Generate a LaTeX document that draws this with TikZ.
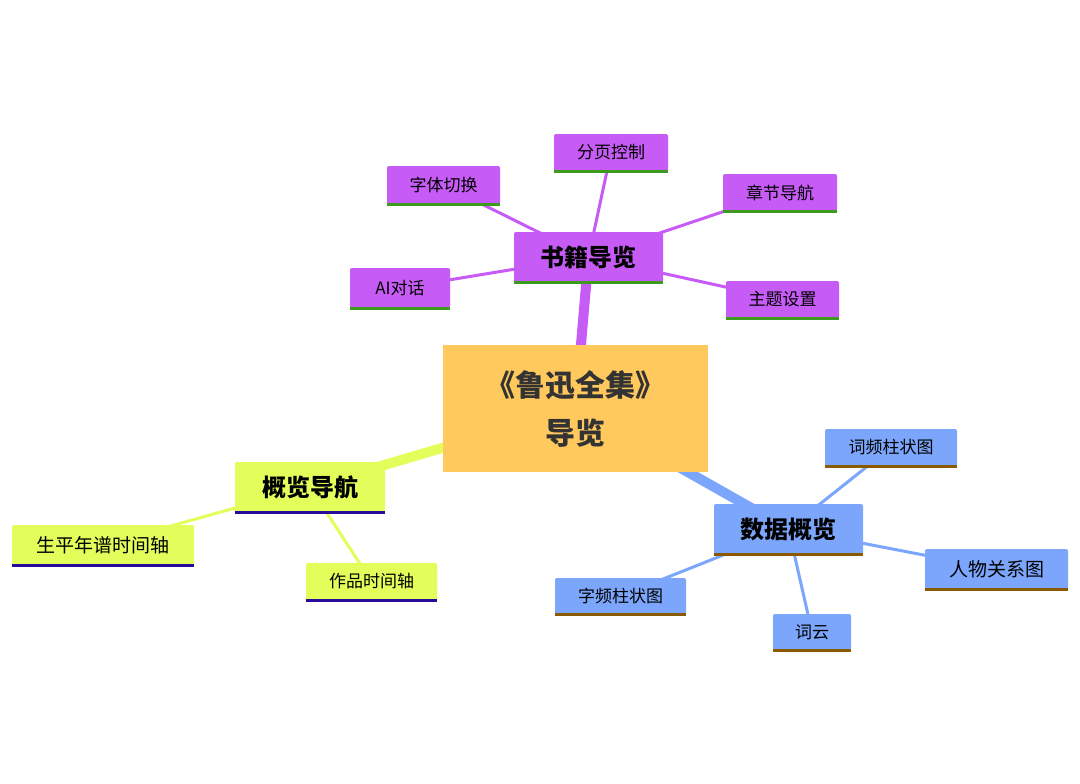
\documentclass[tikz,border=0pt]{standalone}
\usepackage{fontspec}
\setmainfont{Noto Sans CJK SC}
\usetikzlibrary{backgrounds}
\definecolor{cen}{HTML}{FFC95E}
\definecolor{pur}{HTML}{C65BF5}
\definecolor{pgr}{HTML}{3C9A1E}
\definecolor{ylw}{HTML}{E3FD5A}
\definecolor{ybl}{HTML}{2A0A9A}
\definecolor{blu}{HTML}{7BA6FC}
\definecolor{bbr}{HTML}{8A5A00}
\tikzset{
 bx/.style={inner sep=0pt, rounded corners=2pt, font=\fontsize{17}{20}\selectfont},
 pbox/.style={bx, fill=pur},
 ybox/.style={bx, fill=ylw},
 bbox/.style={bx, fill=blu},
 mainf/.style={font=\fontsize{24}{28}\selectfont\bfseries},
}
\begin{document}
\begin{tikzpicture}[x=1pt,y=-1pt]
\useasboundingbox (0,0) rectangle (1080,784);
\node[fill=cen, minimum width=265, minimum height=127, inner sep=0pt, align=center, text=black!80, font=\fontsize{30}{48}\selectfont\bfseries] (c) at (575.5,408.5) {《鲁迅全集》\\导览};
% purple
\node[pbox, mainf, minimum width=149, minimum height=50] (b) at (588.5,257) {书籍导览};
\node[pbox, minimum width=113, minimum height=38] (b1) at (443.5,185) {字体切换};
\node[pbox, minimum width=114, minimum height=37] (b2) at (611,152.5) {分页控制};
\node[pbox, minimum width=114, minimum height=37] (b3) at (780,192.5) {章节导航};
\node[pbox, minimum width=100, minimum height=40] (b4) at (400,288) {AI对话};
\node[pbox, minimum width=113, minimum height=37] (b5) at (782.5,299.5) {主题设置};
% yellow
\node[ybox, mainf, minimum width=150, minimum height=50] (g) at (310,487) {概览导航};
\node[ybox, minimum width=182, minimum height=40, font=\fontsize{19}{22}\selectfont] (g1) at (103,545) {生平年谱时间轴};
\node[ybox, minimum width=131, minimum height=37] (g2) at (371.5,581.5) {作品时间轴};
% blue
\node[bbox, mainf, minimum width=149, minimum height=50] (d) at (788.5,529) {数据概览};
\node[bbox, minimum width=132, minimum height=37] (d1) at (891,447.5) {词频柱状图};
\node[bbox, minimum width=143, minimum height=40, font=\fontsize{19}{22}\selectfont] (d2) at (996.5,569) {人物关系图};
\node[bbox, minimum width=131, minimum height=36] (d3) at (620.5,596) {字频柱状图};
\node[bbox, minimum width=78, minimum height=36] (d4) at (812,632) {词云};
\foreach \n in {b,b1,b2,b3,b4,b5} \draw[pgr, line width=3pt] (\n.south west) -- (\n.south east);
\foreach \n in {g,g1,g2} \draw[ybl, line width=3pt] (\n.south west) -- (\n.south east);
\foreach \n in {d,d1,d2,d3,d4} \draw[bbr, line width=3pt] (\n.south west) -- (\n.south east);
\begin{scope}[on background layer]
\draw[pur, line width=10pt] (c.center) -- (b.center);
\draw[ylw, line width=10pt] (c.center) -- (g.center);
\draw[blu, line width=10pt] (c.center) -- (d.center);
\foreach \n in {b1,b2,b3,b4,b5} \draw[pur, line width=3pt] (b.center) -- (\n.center);
\foreach \n in {g1,g2} \draw[ylw, line width=3pt] (g.center) -- (\n.center);
\foreach \n in {d1,d2,d3,d4} \draw[blu, line width=3pt] (d.center) -- (\n.center);
\end{scope}
\end{tikzpicture}
\end{document}
